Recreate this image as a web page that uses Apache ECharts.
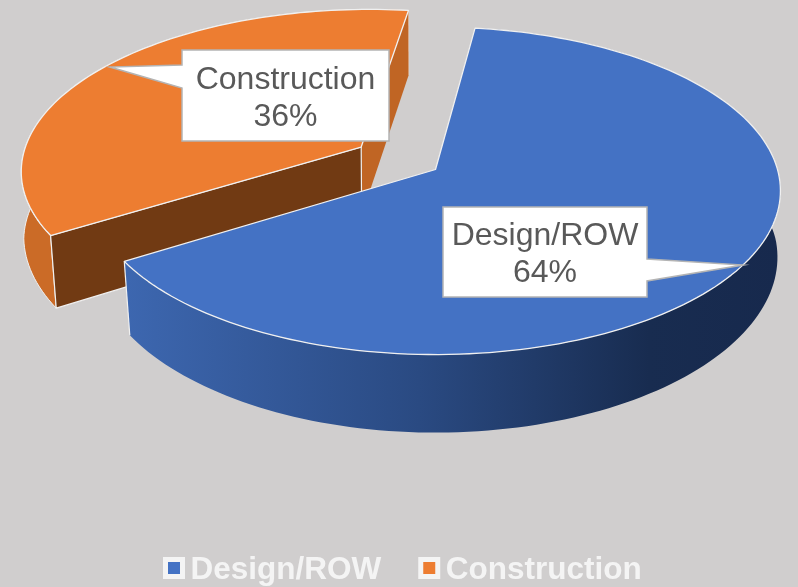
<!DOCTYPE html>
<html>
<head>
<meta charset="utf-8">
<title>Design/ROW vs Construction</title>
<script src="https://cdn.jsdelivr.net/npm/echarts@6/dist/echarts.min.js"></script>
<style>
  html, body { margin: 0; padding: 0; background: #d0cece; }
  #chart { width: 798px; height: 587px; }
</style>
</head>
<body>
<div id="chart"></div>
<script>
const categories = ['Design/ROW', 'Construction'];
const values = [64, 36];

const topColors = ['#4472c4', '#ed7d31'];
const edgeColor = '#f0f0f0';
const textColor = '#595959';

// the pie's plane and how it is seen
const cx = 435.5, cy = 169.5;
const radiusX = 342, radiusY = 161, persp = 0.13;
const shrink = 0.984, depthMid = 69;
const startAngle = 7.5;
const explodeBy = [0, 0.263];

// callouts: box, pointer tip and pointer base on the box side
const callouts = [
    { x: 443, y: 207, w: 204, h: 90, tip: [743, 265], base: [259, 281], side: 'right' },
    { x: 182, y: 50, w: 207, h: 91, tip: [110, 67], base: [88, 65], side: 'left' }
];

const total = values.reduce((a, b) => a + b, 0);

function project(u, v, low) {
    let w = 1 - persp * v;
    let x = radiusX * u / w;
    let y = radiusY * v / w;
    if (low) {
        x = x * (0.994 - 0.022 * Math.max(v, 0));
        y = y * shrink + depthMid + (v > 0 ? 12 : 6) * v;
    }
    return [cx + x, cy + y];
}

// angle in degrees, clockwise from the back of the pie
function rimPoint(deg, off, low) {
    let r = deg * Math.PI / 180;
    return project(Math.sin(r) + off[0], -Math.cos(r) + off[1], low);
}

function arcPoints(from, to, off, low) {
    let pts = [];
    let n = Math.ceil(Math.abs(to - from) / 1.5);
    for (let i = 0; i <= n; i++) {
        pts.push(rimPoint(from + (to - from) * i / n, off, low));
    }
    return pts;
}

function poly(points, style, closed) {
    return { type: closed === false ? 'polyline' : 'polygon', shape: { points: points }, style: style };
}

function sliceAngles(index) {
    let before = 0;
    for (let i = 0; i < index; i++) before += values[i];
    let from = startAngle + before / total * 360;
    return [from, from + values[index] / total * 360];
}

function calloutShape(c) {
    let r = c.x + c.w, b = c.y + c.h;
    if (c.side === 'right') {
        return [[c.x, c.y], [r, c.y], [r, c.base[0]], c.tip, [r, c.base[1]], [r, b], [c.x, b]];
    }
    return [[c.x, c.y], [r, c.y], [r, b], [c.x, b], [c.x, c.base[0]], c.tip, [c.x, c.base[1]]];
}

function renderSlice(index) {
    return function () {
        let range = sliceAngles(index);
        let from = range[0], to = range[1];
        let mid = (from + to) / 2 * Math.PI / 180;
        let off = [Math.sin(mid) * explodeBy[index], -Math.cos(mid) * explodeBy[index]];
        let apexTop = project(off[0], off[1], false);
        let apexLow = project(off[0], off[1], true);
        let topArc = arcPoints(from, to, off, false);
        let lowArc = arcPoints(from, to, off, true);
        let children = [];

        if (index === 0) {
            let wallFill = new echarts.graphic.LinearGradient(0, 0, 1, 0, [
                { offset: 0, color: '#3d67b0' },
                { offset: 0.45, color: '#2a4a82' },
                { offset: 0.8, color: '#182c50' },
                { offset: 1, color: '#17294d' }
            ]);
            children.push(poly(topArc.concat(lowArc.slice().reverse()), { fill: wallFill }));
            // bright edge down the left corner
            children.push(poly([topArc[topArc.length - 1], lowArc[lowArc.length - 1]],
                { fill: null, stroke: edgeColor, lineWidth: 1.2 }, false));
        } else {
            children.push(poly(topArc.concat(lowArc.slice().reverse()),
                { fill: '#cb6b27', stroke: edgeColor, lineWidth: 1 }));
            // lit cut face at the back, dark cut face in front
            children.push(poly([apexTop, topArc[topArc.length - 1], lowArc[lowArc.length - 1], apexLow],
                { fill: '#c06524' }));
            children.push(poly([apexTop, topArc[0], lowArc[0], apexLow],
                { fill: '#713a13', stroke: edgeColor, lineWidth: 1.2 }));
        }

        children.push(poly([apexTop].concat(topArc),
            { fill: topColors[index], stroke: edgeColor, lineWidth: 1.3, lineJoin: 'round' }));

        let c = callouts[index];
        children.push(poly(calloutShape(c), { fill: '#ffffff', stroke: '#b4b4b4', lineWidth: 1.5 }));
        children.push({
            type: 'text',
            style: {
                text: categories[index] + '\n' + Math.round(values[index] / total * 100) + '%',
                x: c.x + c.w / 2,
                y: c.y + c.h / 2 + 3,
                align: 'center',
                verticalAlign: 'middle',
                fill: textColor,
                font: '32px "Liberation Sans", Arial, sans-serif',
                lineHeight: 37
            }
        });
        return { type: 'group', children: children };
    };
}

// orange goes first so the blue slice sits over it
const seriesOrder = [1, 0];

let chart = echarts.init(document.getElementById('chart'), null, { renderer: 'canvas' });
let option = {
    backgroundColor: '#d0cece',
    animation: false,
    legend: {
        data: categories,
        left: 158,
        top: 549,
        icon: 'rect',
        itemWidth: 17,
        itemHeight: 17,
        itemGap: 37,
        itemStyle: { borderColor: '#f4f4f4', borderWidth: 5 },
        formatter: '{a|{name}}',
        textStyle: {
            rich: {
                a: {
                    color: '#f4f4f4',
                    fontFamily: '"Liberation Sans", Arial, sans-serif',
                    fontWeight: 'bold',
                    fontSize: 31.5,
                    padding: [4, 0, 0, 3]
                }
            }
        },
        selectedMode: false
    },
    series: seriesOrder.map(function (i) {
        return {
            type: 'custom',
            name: categories[i],
            coordinateSystem: 'none',
            silent: true,
            itemStyle: { color: topColors[i] },
            data: [{ name: categories[i], value: values[i] }],
            renderItem: renderSlice(i)
        };
    })
};
chart.setOption(option);
</script>
</body>
</html>
